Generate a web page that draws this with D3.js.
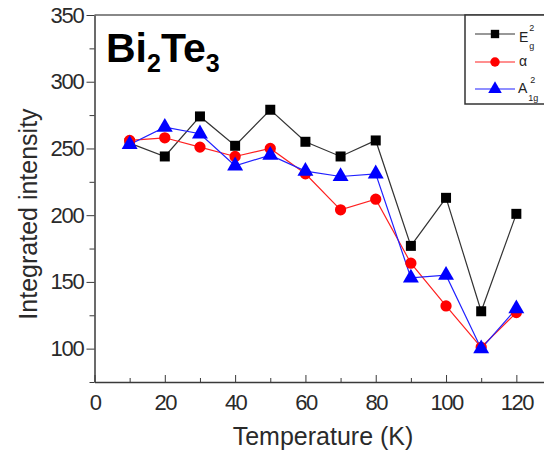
<!DOCTYPE html>
<html><head><meta charset="utf-8">
<script src="https://cdn.jsdelivr.net/npm/d3@7"></script>
<style>
html,body{margin:0;padding:0;background:#fff;}
svg{display:block;font-family:"Liberation Sans",Arial,sans-serif;}
</style></head>
<body>
<svg id="c" width="544" height="453"></svg>
<script>
const temperatures = [10,20,30,40,50,60,70,80,90,100,110,120];
const eg2 = [254,244,274,252,279,255,244,256,177,213,128,201];
const alpha = [256,258,251,244,250,231,204,212,164,132,101,127];
const a1g2 = [253,266,261,237,245,233,229,231,153,155,100,130];
const xTicks = [0,20,40,60,80,100,120];
const yTicks = [100,150,200,250,300,350];

const svg = d3.select("#c");
const x = d3.scaleLinear().domain([0,130]).range([94.5,551.5]);
const y = d3.scaleLinear().domain([75,350]).range([382,15]);
const axisCol = "#3a3a3a";
const textCol = "#2a2a2a";

// top frame line
svg.append("line").attr("x1",94.5).attr("x2",544).attr("y1",15).attr("y2",15)
  .attr("stroke","#888").attr("stroke-width",2);

// x axis (ticks inward)
const xAxis = d3.axisBottom(x).tickValues(d3.range(0,131,10)).tickSizeInner(-6).tickSizeOuter(0)
  .tickFormat(d => xTicks.includes(d) ? d : "");
const gx = svg.append("g").attr("transform","translate(0,382)").call(xAxis);
gx.select(".domain").attr("stroke",axisCol).attr("stroke-width",1.5);
gx.selectAll(".tick line").attr("stroke",axisCol).attr("y2",d => xTicks.includes(d)? -7 : -4);
gx.selectAll(".tick text").attr("y",12).attr("dy","0.71em").attr("fill",textCol)
  .style("font-size","22px").style("letter-spacing","-1.5px");

// y axis (ticks outward)
const yAxis = d3.axisLeft(y).tickValues(d3.range(75,351,25)).tickSizeInner(8).tickSizeOuter(0)
  .tickFormat(d => yTicks.includes(d) ? d : "");
const gy = svg.append("g").attr("transform","translate(94.5,0)").call(yAxis);
gy.select(".domain").attr("stroke",axisCol).attr("stroke-width",1.5);
gy.selectAll(".tick line").attr("stroke",axisCol).attr("x2",d => yTicks.includes(d)? -8 : -5);
gy.selectAll(".tick text").attr("x",-11).attr("fill",textCol)
  .style("font-size","22px").style("letter-spacing","-1.2px");

// axis titles
svg.append("text").attr("x",323).attr("y",445).attr("text-anchor","middle")
  .attr("fill",textCol).style("font-size","25px").text("Temperature (K)");
svg.append("text").attr("transform","translate(37,214) rotate(-90)").attr("text-anchor","middle")
  .attr("fill",textCol).style("font-size","25px").text("Integrated intensity");

// series
const series = [
  {name:"E", vals:eg2, color:"#000", line:"#333", shape:"square"},
  {name:"alpha", vals:alpha, color:"#ff0000", line:"#ff2020", shape:"circle"},
  {name:"A", vals:a1g2, color:"#0000ff", line:"#2020ff", shape:"triangle"}
];
const sym = {
  square: d3.symbol().type(d3.symbolSquare).size(100),
  circle: d3.symbol().type(d3.symbolCircle).size(100),
  triangle: d3.symbol().type(d3.symbolTriangle).size(110)
};
const line = d3.line().x((d,i)=>x(temperatures[i])).y(d=>y(d));
series.forEach(s => {
  svg.append("path").attr("d",line(s.vals)).attr("fill","none")
    .attr("stroke",s.line).attr("stroke-width",1.2);
});
series.forEach(s => {
  svg.append("g").selectAll("path").data(s.vals).join("path")
    .attr("transform",(d,i)=>`translate(${x(temperatures[i])},${y(d)})`)
    .attr("d",sym[s.shape]()).attr("fill",s.color);
});

// title
const title = svg.append("text").attr("x",106).attr("y",62).attr("fill","#000")
  .style("font-size","41px").style("font-weight","bold");
title.append("tspan").text("Bi");
title.append("tspan").attr("dy",10).style("font-size","25px").text("2");
title.append("tspan").attr("dy",-10).text("Te");
title.append("tspan").attr("dy",10).style("font-size","25px").text("3");

// legend
const lg = svg.append("g");
lg.append("rect").attr("x",465).attr("y",15).attr("width",90).attr("height",89)
  .attr("fill","#fff").attr("stroke","#333").attr("stroke-width",1.5);
const rows = [{s:series[0],yy:34},{s:series[1],yy:62},{s:series[2],yy:89}];
rows.forEach(r => {
  lg.append("line").attr("x1",475).attr("x2",515).attr("y1",r.yy).attr("y2",r.yy)
    .attr("stroke",r.s.line).attr("stroke-width",1.2);
  lg.append("path").attr("transform",`translate(495,${r.yy})`)
    .attr("d",d3.symbol().type(r.s.shape==="square"?d3.symbolSquare:r.s.shape==="circle"?d3.symbolCircle:d3.symbolTriangle).size(r.s.shape==="triangle"?80:70)())
    .attr("fill",r.s.color);
});
const t1 = lg.append("text").attr("x",519).attr("y",42).attr("fill","#222").style("font-size","14px");
t1.append("tspan").text("E");
t1.append("tspan").attr("dx",1).attr("dy",-11).style("font-size","9px").text("2");
t1.append("tspan").attr("dx",-5).attr("dy",18).style("font-size","9px").text("g");
lg.append("text").attr("x",519).attr("y",66).attr("fill","#222").style("font-size","14px").text("α");
const t3 = lg.append("text").attr("x",518).attr("y",93).attr("fill","#222").style("font-size","14px");
t3.append("tspan").text("A");
t3.append("tspan").attr("dx",3).attr("dy",-10).style("font-size","9px").text("2");
t3.append("tspan").attr("dx",-7).attr("dy",18).style("font-size","9px").text("1g");
</script>
</body></html>
